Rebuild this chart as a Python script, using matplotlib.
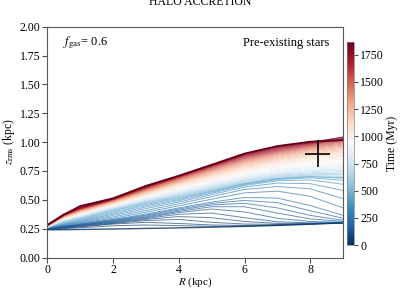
import numpy as np
import matplotlib
matplotlib.use("Agg")
from matplotlib import pyplot as plt
from matplotlib import cm, colors

plt.rcParams['font.family'] = 'serif'
plt.rcParams['font.serif'] = ['Liberation Serif', 'DejaVu Serif']
plt.rcParams['mathtext.fontset'] = 'stix'
plt.rcParams['font.size'] = 8.5

# radius grid (kpc)
radius = [0, 0.5, 1, 2, 3, 4, 5, 6, 7, 8, 9]

# snapshot times (Myr)
times = [0, 20, 40, 60, 80, 100, 120, 140, 160, 180, 200, 240, 280, 320,
         360, 400, 440, 480, 520, 560, 600, 640, 680, 720, 760, 800, 840,
         880, 920, 960, 1000, 1040, 1080, 1120, 1160, 1200, 1240, 1280,
         1320, 1360, 1400, 1440, 1480, 1520, 1560, 1600, 1640, 1680, 1720,
         1760, 1800, 1840, 1870]

# z_rms (kpc) of pre-existing stars at each snapshot
zrms = [
    [0.240, 0.241, 0.243, 0.247, 0.252, 0.257, 0.263, 0.270, 0.278, 0.288, 0.300],
    [0.243, 0.250, 0.258, 0.275, 0.282, 0.276, 0.270, 0.272, 0.280, 0.290, 0.300],
    [0.245, 0.255, 0.265, 0.290, 0.305, 0.295, 0.282, 0.278, 0.283, 0.291, 0.300],
    [0.247, 0.258, 0.270, 0.295, 0.320, 0.330, 0.305, 0.290, 0.288, 0.293, 0.300],
    [0.248, 0.261, 0.274, 0.300, 0.330, 0.355, 0.345, 0.312, 0.296, 0.296, 0.301],
    [0.249, 0.263, 0.277, 0.305, 0.338, 0.375, 0.385, 0.345, 0.310, 0.300, 0.302],
    [0.250, 0.265, 0.280, 0.310, 0.345, 0.390, 0.420, 0.395, 0.340, 0.312, 0.305],
    [0.250, 0.267, 0.283, 0.315, 0.352, 0.400, 0.440, 0.440, 0.385, 0.335, 0.312],
    [0.251, 0.269, 0.286, 0.320, 0.360, 0.410, 0.455, 0.470, 0.430, 0.365, 0.322],
    [0.251, 0.271, 0.289, 0.325, 0.368, 0.420, 0.468, 0.495, 0.475, 0.405, 0.340],
    [0.252, 0.273, 0.292, 0.330, 0.376, 0.430, 0.480, 0.520, 0.515, 0.450, 0.365],
    [0.253, 0.277, 0.298, 0.340, 0.392, 0.448, 0.505, 0.560, 0.575, 0.530, 0.430],
    [0.254, 0.281, 0.304, 0.352, 0.408, 0.465, 0.528, 0.590, 0.615, 0.595, 0.510],
    [0.255, 0.285, 0.310, 0.364, 0.424, 0.480, 0.545, 0.610, 0.645, 0.640, 0.580],
    [0.256, 0.289, 0.316, 0.375, 0.438, 0.493, 0.558, 0.624, 0.665, 0.672, 0.635],
    [0.257, 0.293, 0.322, 0.385, 0.450, 0.503, 0.567, 0.632, 0.676, 0.690, 0.670],
    [0.258, 0.297, 0.328, 0.394, 0.459, 0.512, 0.575, 0.639, 0.684, 0.701, 0.692],
    [0.259, 0.306, 0.334, 0.404, 0.468, 0.520, 0.578, 0.638, 0.680, 0.698, 0.688],
    [0.260, 0.308, 0.338, 0.408, 0.473, 0.527, 0.586, 0.645, 0.688, 0.707, 0.705],
    [0.260, 0.310, 0.341, 0.412, 0.478, 0.533, 0.593, 0.652, 0.696, 0.716, 0.720],
    [0.261, 0.312, 0.344, 0.416, 0.483, 0.539, 0.600, 0.659, 0.704, 0.725, 0.732],
    [0.262, 0.315, 0.347, 0.420, 0.488, 0.545, 0.607, 0.666, 0.712, 0.734, 0.744],
    [0.262, 0.317, 0.350, 0.424, 0.493, 0.551, 0.614, 0.673, 0.720, 0.744, 0.756],
    [0.263, 0.319, 0.353, 0.428, 0.498, 0.557, 0.621, 0.681, 0.728, 0.754, 0.768],
    [0.264, 0.322, 0.357, 0.432, 0.503, 0.564, 0.628, 0.689, 0.736, 0.764, 0.780],
    [0.264, 0.324, 0.360, 0.436, 0.508, 0.571, 0.636, 0.697, 0.745, 0.775, 0.792],
    [0.265, 0.326, 0.364, 0.440, 0.513, 0.578, 0.644, 0.705, 0.754, 0.786, 0.804],
    [0.266, 0.329, 0.368, 0.444, 0.518, 0.585, 0.652, 0.714, 0.763, 0.797, 0.816],
    [0.266, 0.332, 0.372, 0.448, 0.523, 0.592, 0.660, 0.722, 0.772, 0.808, 0.828],
    [0.267, 0.335, 0.376, 0.452, 0.528, 0.599, 0.668, 0.731, 0.781, 0.819, 0.840],
    [0.268, 0.337, 0.380, 0.456, 0.533, 0.606, 0.676, 0.740, 0.791, 0.830, 0.852],
    [0.268, 0.340, 0.384, 0.460, 0.538, 0.613, 0.684, 0.749, 0.801, 0.841, 0.864],
    [0.269, 0.342, 0.387, 0.464, 0.543, 0.620, 0.692, 0.758, 0.811, 0.852, 0.876],
    [0.270, 0.344, 0.390, 0.468, 0.548, 0.627, 0.700, 0.767, 0.821, 0.863, 0.888],
    [0.270, 0.346, 0.393, 0.472, 0.553, 0.634, 0.708, 0.776, 0.831, 0.874, 0.900],
    [0.271, 0.349, 0.396, 0.476, 0.558, 0.641, 0.716, 0.785, 0.841, 0.885, 0.912],
    [0.272, 0.351, 0.399, 0.479, 0.563, 0.647, 0.723, 0.794, 0.850, 0.895, 0.923],
    [0.272, 0.353, 0.402, 0.482, 0.568, 0.653, 0.730, 0.803, 0.859, 0.905, 0.934],
    [0.273, 0.355, 0.405, 0.485, 0.573, 0.659, 0.737, 0.812, 0.868, 0.915, 0.945],
    [0.274, 0.357, 0.408, 0.488, 0.577, 0.664, 0.744, 0.820, 0.877, 0.924, 0.955],
    [0.274, 0.359, 0.411, 0.491, 0.581, 0.669, 0.751, 0.828, 0.886, 0.933, 0.965],
    [0.275, 0.361, 0.414, 0.494, 0.585, 0.674, 0.757, 0.836, 0.894, 0.941, 0.975],
    [0.276, 0.363, 0.416, 0.496, 0.589, 0.679, 0.763, 0.843, 0.902, 0.949, 0.984],
    [0.276, 0.364, 0.418, 0.498, 0.593, 0.684, 0.769, 0.850, 0.909, 0.956, 0.993],
    [0.277, 0.366, 0.420, 0.500, 0.597, 0.688, 0.775, 0.857, 0.916, 0.963, 1.001],
    [0.277, 0.367, 0.422, 0.502, 0.600, 0.692, 0.780, 0.863, 0.922, 0.969, 1.009],
    [0.278, 0.369, 0.424, 0.504, 0.603, 0.696, 0.785, 0.869, 0.928, 0.975, 1.016],
    [0.278, 0.370, 0.426, 0.506, 0.606, 0.699, 0.789, 0.875, 0.934, 0.980, 1.023],
    [0.279, 0.371, 0.428, 0.507, 0.609, 0.702, 0.793, 0.880, 0.940, 0.985, 1.030],
    [0.279, 0.373, 0.430, 0.508, 0.612, 0.704, 0.796, 0.885, 0.946, 0.990, 1.036],
    [0.280, 0.374, 0.432, 0.509, 0.615, 0.706, 0.799, 0.890, 0.951, 0.994, 1.041],
    [0.280, 0.375, 0.434, 0.510, 0.617, 0.707, 0.801, 0.895, 0.956, 0.998, 1.045],
    [0.281, 0.370, 0.445, 0.512, 0.620, 0.708, 0.803, 0.900, 0.965, 1.003, 1.018],
]

# observed point with error bars
obs_r, obs_z = 8.22, 0.90
obs_rerr, obs_zerr = 0.39, 0.115

fig = plt.figure(figsize=(4, 2.9), dpi=100)
ax = fig.add_axes([0.118, 0.112, 0.74, 0.796])
cax = fig.add_axes([0.868, 0.155, 0.017, 0.701])

norm = colors.Normalize(vmin=0, vmax=times[-1])
cmap = plt.get_cmap('RdBu_r')

for i, t in enumerate(times):
    lw = 0.7
    al = 0.65
    if i == 0:
        lw, al = 1.0, 0.8
    if i == len(times) - 1:
        lw, al = 1.4, 1.0
    ax.plot(radius, zrms[i], color=cmap(norm(t)), lw=lw, alpha=al)

ax.errorbar(obs_r, obs_z, xerr=obs_rerr, yerr=obs_zerr, color='k',
            lw=1.2, capsize=0, zorder=10)

ax.set_xlim(0, 9)
ax.set_ylim(0, 2)
ax.set_yticks(np.arange(0, 2.01, 0.25))
ax.set_xlabel(r'$R$ (kpc)', labelpad=-0.5, fontsize=8)
ax.set_ylabel(r'$z_{\rm rms}$ (kpc)', labelpad=2)
for s in ax.spines.values():
    s.set_color('0.35')
    s.set_linewidth(0.8)
ax.tick_params(length=3.5, width=0.8, color='0.3', pad=1.5)

ax.text(0.053, 0.93, r'$f_{\rm gas}$= 0.6', transform=ax.transAxes,
        ha='left', va='center', fontsize=9)
ax.text(0.952, 0.93, 'Pre-existing stars', transform=ax.transAxes,
        ha='right', va='center', fontsize=9)

sm = cm.ScalarMappable(norm=norm, cmap=cmap)
cb = fig.colorbar(sm, cax=cax)
cb.set_ticks([0, 250, 500, 750, 1000, 1250, 1500, 1750])
cb.set_label('Time (Myr)', labelpad=1)
cb.outline.set_linewidth(0.5)
cb.outline.set_edgecolor('0.5')
cax.tick_params(length=3, width=0.8, color='0.3', pad=1.5)

fig.text(0.5, 0.983, 'HALO ACCRETION', fontsize=8.5, ha='center', va='baseline')

plt.savefig('out.png', dpi=100)
